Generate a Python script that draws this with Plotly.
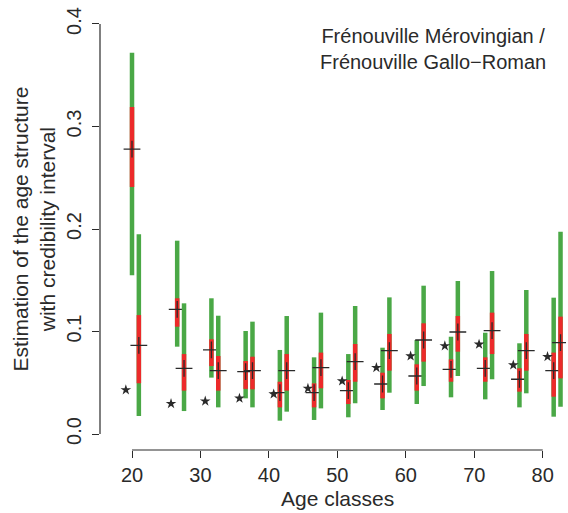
import plotly.graph_objects as go

# ---- data ----
age_classes = [20, 26.6, 31.6, 36.6, 41.6, 46.6, 51.6, 56.6, 61.6, 66.6, 71.6, 76.6, 81.6]
gallo_offset = 1.0
star_offset = -0.9

mero_lo95 = [0.155, 0.0852, 0.055, 0.0348, 0.013, 0.0137, 0.0163, 0.0234, 0.0293, 0.0358, 0.0338, 0.026, 0.0169]
mero_lo50 = [0.241, 0.1047, 0.0663, 0.044, 0.026, 0.026, 0.0293, 0.0348, 0.0423, 0.051, 0.051, 0.0413, 0.0364]
mero_med = [0.278, 0.1216, 0.082, 0.0608, 0.0403, 0.0403, 0.0423, 0.0488, 0.0566, 0.0631, 0.0641, 0.0534, 0.0618]
mero_hi50 = [0.319, 0.1324, 0.0924, 0.0712, 0.051, 0.0494, 0.0527, 0.0598, 0.068, 0.0728, 0.0748, 0.0641, 0.0794]
mero_hi95 = [0.372, 0.1886, 0.1324, 0.1005, 0.082, 0.0748, 0.078, 0.0842, 0.0917, 0.0949, 0.0988, 0.0885, 0.133]

gallo_lo95 = [0.0176, 0.0224, 0.026, 0.026, 0.0218, 0.025, 0.03, 0.0403, 0.0468, 0.0566, 0.0534, 0.0397, 0.0266]
gallo_lo50 = [0.0495, 0.0423, 0.0423, 0.0436, 0.0423, 0.0446, 0.051, 0.0618, 0.0706, 0.0803, 0.078, 0.0618, 0.0543]
gallo_med = [0.0865, 0.064, 0.0618, 0.0618, 0.0618, 0.0647, 0.0706, 0.0813, 0.0917, 0.0995, 0.1008, 0.0813, 0.0891]
gallo_hi50 = [0.116, 0.078, 0.0761, 0.0754, 0.078, 0.0794, 0.0878, 0.0976, 0.108, 0.1151, 0.1184, 0.0976, 0.1145]
gallo_hi95 = [0.195, 0.1275, 0.1154, 0.1096, 0.1151, 0.1184, 0.1249, 0.1333, 0.1447, 0.1493, 0.159, 0.1405, 0.1974]

observed = [0.043, 0.0296, 0.032, 0.0348, 0.039, 0.0445, 0.0517, 0.0647, 0.0761, 0.0859, 0.0875, 0.0673, 0.0754]

x_ticks = [20, 30, 40, 50, 60, 70, 80]
y_ticks = [0.0, 0.1, 0.2, 0.3, 0.4]
y_ticktext = ["0.0", "0.1", "0.2", "0.3", "0.4"]

GREEN = "#4aa846"
RED = "#ec2a2a"
INK = "#2a2a2a"
FONT = "Liberation Sans, Arial, sans-serif"


def segs(xs, lo, hi):
    X, Y = [], []
    for x, a, b in zip(xs, lo, hi):
        X += [x, x, None]
        Y += [a, b, None]
    return X, Y


mero_x = list(age_classes)
gallo_x = [a + gallo_offset for a in age_classes]
star_x = [a + star_offset for a in age_classes]

fig = go.Figure()
for xs, lo95, lo50, med, hi50, hi95 in [
    (mero_x, mero_lo95, mero_lo50, mero_med, mero_hi50, mero_hi95),
    (gallo_x, gallo_lo95, gallo_lo50, gallo_med, gallo_hi50, gallo_hi95),
]:
    X, Y = segs(xs, lo95, hi95)
    fig.add_trace(go.Scatter(x=X, y=Y, mode="lines", line=dict(color=GREEN, width=4.5),
                             hoverinfo="skip", showlegend=False))
    X, Y = segs(xs, lo50, hi50)
    fig.add_trace(go.Scatter(x=X, y=Y, mode="lines", line=dict(color=RED, width=4.5),
                             hoverinfo="skip", showlegend=False))
    fig.add_trace(go.Scatter(x=xs, y=med, mode="markers",
                             marker=dict(symbol="cross-thin", size=12,
                                         line=dict(color=INK, width=1.3)),
                             showlegend=False))

fig.add_trace(go.Scatter(x=star_x, y=observed, mode="markers",
                         marker=dict(symbol="star", size=8, color=INK),
                         showlegend=False))

fig.add_annotation(x=64, y=0.376, xref="x", yref="y",
                   text="Frénouville Mérovingian /<br>Frénouville Gallo\u2212Roman",
                   showarrow=False, font=dict(family=FONT, size=20, color=INK),
                   xanchor="center", yanchor="middle")

fig.add_annotation(x=0, y=0.5, xref="paper", yref="paper", xshift=-66.5,
                   text="Estimation of the age structure<br>with credibility interval",
                   textangle=-90, showarrow=False,
                   font=dict(family=FONT, size=21, color=INK),
                   xanchor="center", yanchor="middle")

fig.add_annotation(x=50, y=0, xref="x", yref="paper", yshift=-48,
                   text="Age classes", showarrow=False,
                   font=dict(family=FONT, size=21, color=INK),
                   xanchor="center", yanchor="middle")

# R-style axis lines spanning only the tick range
fig.add_shape(type="line", xref="x", yref="paper", x0=x_ticks[0], x1=x_ticks[-1], y0=0, y1=0,
              line=dict(color=INK, width=1.2))
fig.add_shape(type="line", xref="paper", yref="y", x0=0, x1=0, y0=y_ticks[0], y1=y_ticks[-1],
              line=dict(color=INK, width=1.2))

fig.update_layout(
    width=568, height=513,
    margin=dict(l=100, r=2, t=8, b=63),
    plot_bgcolor="white", paper_bgcolor="white",
    font=dict(family=FONT, color=INK),
    xaxis=dict(range=[15.325, 83.4], tickvals=x_ticks, ticks="outside", ticklen=7,
               tickwidth=1.2, tickcolor=INK, showgrid=False, zeroline=False, showline=False,
               tickfont=dict(family=FONT, size=20, color=INK)),
    yaxis=dict(range=[-0.0156, 0.4156], tickvals=y_ticks, ticktext=y_ticktext,
               ticks="outside", ticklen=7, tickwidth=1.2, tickcolor=INK, tickangle=-90,
               ticklabeloverflow="allow", ticklabelstandoff=3,
               showgrid=False, zeroline=False, showline=False,
               tickfont=dict(family=FONT, size=20, color=INK)),
)

fig.write_html(
    "out.html",
    config={"displayModeBar": False},
    post_script="document.body.style.margin='0';document.body.style.overflow='hidden';",
)
